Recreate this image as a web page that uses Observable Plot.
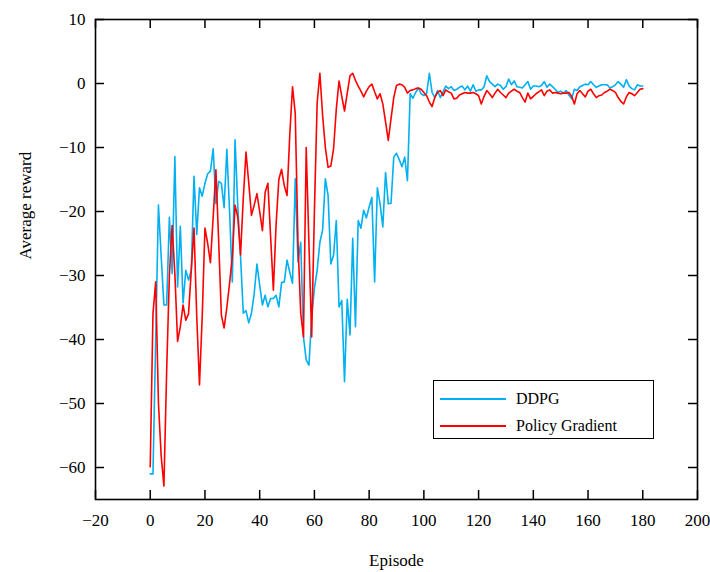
<!DOCTYPE html>
<html>
<head>
<meta charset="utf-8">
<script src="https://cdn.jsdelivr.net/npm/d3@7"></script>
<script src="https://cdn.jsdelivr.net/npm/@observablehq/plot@0.6"></script>
<style>
  body { margin: 0; background: #fff; }
  #wrap { position: relative; width: 710px; height: 572px; font-family: "Liberation Serif", "Times New Roman", serif; }
  #chart svg text { font-family: "Liberation Serif", "Times New Roman", serif; }
  #legend { position: absolute; left: 433px; top: 380px; width: 221px; height: 59px; border: 1px solid #000; background: #fff; box-sizing: border-box; font-size: 16px; }
  .row { position: absolute; left: 6px; height: 20px; display: flex; align-items: center; }
  .sw { width: 66px; height: 2px; margin-right: 10px; }
</style>
</head>
<body>
<div id="wrap">
  <div id="chart"></div>
  <div id="legend">
    <div class="row" style="top:8px"><div class="sw" style="background:#00b0f0"></div><span>DDPG</span></div>
    <div class="row" style="top:35px"><div class="sw" style="background:#ff0000"></div><span>Policy Gradient</span></div>
  </div>
</div>
<script>
const seriesNames = ["DDPG", "Policy Gradient"];
const seriesColors = ["#00b0f0", "#ff0000"];
const xTicks = [-20, 0, 20, 40, 60, 80, 100, 120, 140, 160, 180, 200];
const yTicks = [-60, -50, -40, -30, -20, -10, 0, 10];

const ddpg = [
  -61, -61, -40, -19, -27, -34.6, -34.6, -20.9, -29.7, -11.4,
  -31.8, -22.3, -34.3, -29.2, -30.7, -29.2, -14.5, -23.6, -16.3, -17.6,
  -15.6, -14.1, -13.7, -10.2, -18.8, -15.3, -15.6, -19.4, -10.3, -20,
  -31, -8.8, -19.2, -27, -35.9, -35.5, -37.4, -35.9, -32.8, -28.2,
  -31.5, -34.6, -33.1, -34.9, -33.6, -33.6, -33.1, -34.9, -31.1, -31,
  -27.6, -29.5, -31.2, -14.9, -27.9, -24.8, -39.6, -43.2, -44, -36.4,
  -32, -29.2, -24.8, -22.9, -14.9, -17.5, -28.2, -26.8, -21.4, -34.9,
  -33.9, -46.6, -33.7, -39.3, -24.2, -38, -21.4, -22.6, -19.8, -21,
  -19.3, -17.8, -31, -16.3, -18.8, -22.4, -13.9, -18.8, -18.7, -11.5,
  -10.9, -11.9, -13, -11.5, -15.2, -1.6, -2.3, -1.4, -0.7, -1.6,
  -1.9, -1.6, 1.6, -1.4, -2.2, -1.1, -2.2, -1.3, -0.4, -0.8,
  -0.5, -1.1, -0.9, -0.6, -0.4, -1, -0.4, -1.2, -0.2, -1.2,
  -1, -1, -0.5, 1.2, 0.3, -0.1, -0.5, -0.1, -0.3, -0.9,
  -0.5, 0.7, -0.2, 0.4, -0.5, -0.6, -0.7, -0.2, 0.3, -0.9,
  -0.4, -0.4, -0.5, -0.3, 0.3, -0.6, -0.1, -0.5, -0.9, -1.4,
  -1.2, -1.5, -1.1, -1.8, -2.4, -0.9, -1.1, -0.5, -0.3, -0.1,
  -0.2, 0.3, -0.2, -0.6, -0.4, -0.2, -0.2, -0.2, -0.7, -0.5,
  -0.2, 0.3, -0.1, -0.6, 0.6, -0.4, -0.8, -1, -0.2, -0.4,
  -0.4
];

const pg = [
  -59.9, -36, -31, -49.9, -58.2, -62.9, -45, -30, -22.2, -29.7,
  -40.3, -38, -34.6, -37, -36, -29.2, -22.6, -36.4, -47.1, -36.4,
  -22.6, -25, -28, -20.9, -13.5, -24.5, -36.2, -38.2, -35, -31.2,
  -27.1, -19, -20.9, -26.8, -18, -10.7, -15.5, -20.6, -19, -17.2,
  -20, -23, -17, -15.6, -24, -32.3, -22, -15, -13.4, -16,
  -17.5, -8, -0.5, -4.7, -25, -35.9, -39.6, -10, -25, -39.6,
  -20, -3, 1.6, -5, -10, -13.1, -12.9, -10.2, -4, 0.4,
  -2, -4.3, -1.5, 1.2, 1.6, 0.5, -0.4, -1.2, -2.1, -1.2,
  -0.5, -0.1, -1.3, -2.4, -1.6, -3.2, -6, -8.9, -5.5, -2.2,
  -0.3, -0.1, -0.2, -0.6, -1.5, -1.1, -1, -0.8, -0.7, -0.9,
  -1.4, -1.9, -2.9, -3.6, -2.2, -1.4, -1.1, -1.9, -1, -1.3,
  -1.5, -2.4, -2.3, -1.8, -1.6, -1.4, -1.5, -1.5, -1.4, -1.6,
  -1.9, -3.2, -2, -1.1, -1.6, -2.2, -1.5, -0.9, -1.4, -1.8,
  -2.2, -1.5, -1.2, -0.9, -1.2, -1.4, -2.2, -2.9, -1.5, -2.4,
  -2, -1.6, -1.3, -1, -1.9, -1.2, -1, -1.5, -1.4, -1.5,
  -1.6, -1.5, -1.5, -1.4, -2, -3.2, -1.6, -1.1, -1.6, -2.1,
  -1.2, -0.9, -1.6, -2.2, -1.9, -1.8, -1.4, -1.2, -0.9, -1.1,
  -1.4, -2.2, -2.8, -3.2, -2.1, -1.4, -1.6, -1.9, -1.4, -0.9,
  -0.8
];

const rows = [];
[ddpg, pg].forEach((arr, s) => arr.forEach((v, i) => rows.push({episode: i, reward: v, series: seriesNames[s]})));

const W = 710, H = 572, mL = 95, mR = 13, mT = 19, mB = 73;
const pw = W - mL - mR, ph = H - mT - mB, tk = 9;
const serif = '"Liberation Serif", "Times New Roman", serif';

const chart = Plot.plot({
  width: W, height: H,
  marginLeft: mL, marginRight: mR, marginTop: mT, marginBottom: mB,
  style: {fontFamily: serif, fontSize: "17px", color: "#000", background: "#fff"},
  x: {domain: [-20, 200]},
  y: {domain: [-65, 10]},
  color: {domain: seriesNames, range: seriesColors},
  marks: [
    Plot.axisX(xTicks, {tickSize: 0, tickPadding: 14, label: null, fontSize: 17, fontFamily: serif}),
    Plot.axisY(yTicks, {tickSize: 0, tickPadding: 10, label: null, fontSize: 17, fontFamily: serif}),
    Plot.text(["Episode"], {frameAnchor: "bottom", dy: 66, lineAnchor: "bottom", fontSize: 17, fontFamily: serif}),
    Plot.text(["Average reward"], {frameAnchor: "left", dx: -70, rotate: -90, fontSize: 17, fontFamily: serif}),
    Plot.tickX(xTicks, {x: d => d, insetTop: ph - tk, stroke: "#000", strokeWidth: 1.5}),
    Plot.tickX(xTicks, {x: d => d, insetBottom: ph - tk, stroke: "#000", strokeWidth: 1.5}),
    Plot.tickY(yTicks, {y: d => d, insetRight: pw - tk, stroke: "#000", strokeWidth: 1.5}),
    Plot.tickY(yTicks, {y: d => d, insetLeft: pw - tk, stroke: "#000", strokeWidth: 1.5}),
    Plot.line(rows, {x: "episode", y: "reward", z: "series", stroke: "series", strokeWidth: 1.6}),
    Plot.frame({stroke: "#000", strokeWidth: 1.6})
  ]
});
document.getElementById("chart").appendChild(chart);
</script>
</body>
</html>
